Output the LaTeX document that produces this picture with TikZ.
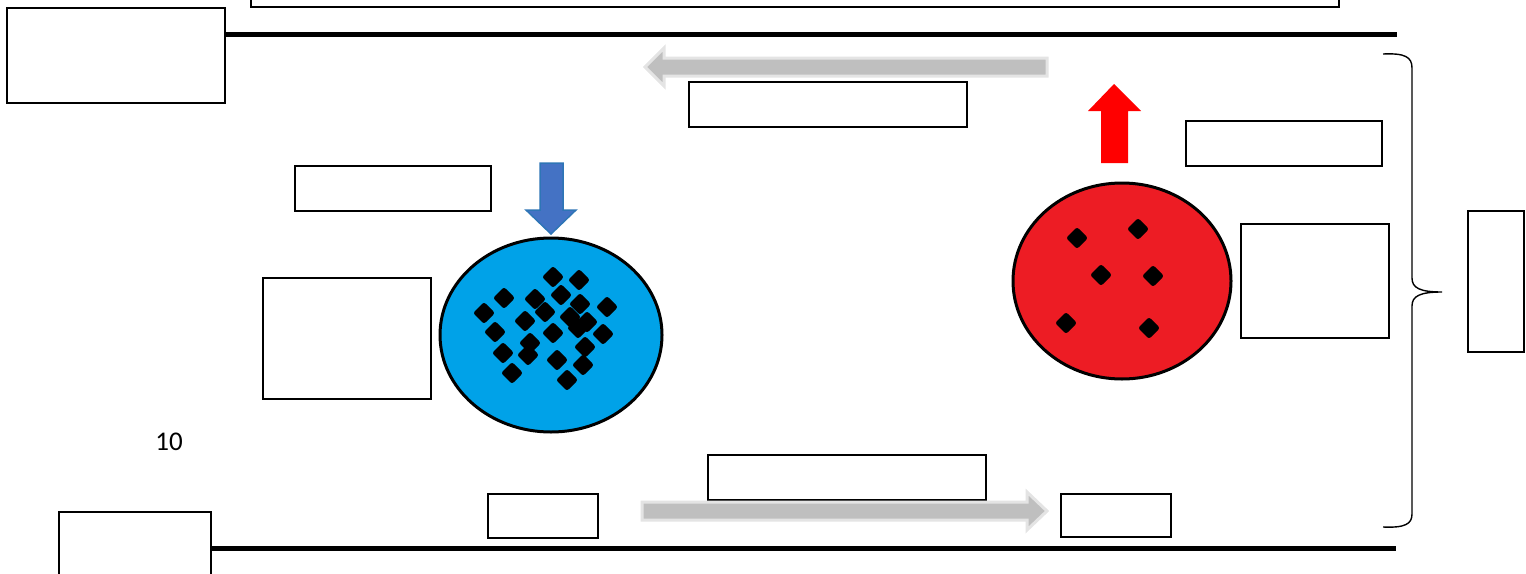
\documentclass[tikz,border=0pt]{standalone}
\usepackage{fontspec}
\setmainfont{Carlito}
\begin{document}
\begin{tikzpicture}[x=1pt,y=-1pt,
  box/.style={draw=black,line width=1.2pt,fill=white,inner sep=0pt},
  thickline/.style={line width=5pt,black},
  grayarrow/.style={fill=arrowgray,draw=arrowrim,line width=3pt,line join=miter},
  dot/.style={fill=black,rounded corners=2.5pt}]
\definecolor{arrowgray}{HTML}{BFBFBF}
\definecolor{arrowrim}{HTML}{E4E4E4}
\definecolor{cellblue}{HTML}{00A2E8}
\definecolor{cellred}{HTML}{ED1C24}
\definecolor{downblue}{HTML}{4472C4}
\definecolor{downrim}{HTML}{2E75B6}
\useasboundingbox (0,0) rectangle (1526,573);
\begin{scope}
\clip (0,0) rectangle (1526,573);

% walls
\draw[thickline] (225,34) -- (1397,34);
\draw[thickline] (211,548) -- (1396,548);

% label boxes
\node[box,minimum width=1088pt,minimum height=17pt] (topbar) at (795,-1.5) {};
\node[box,minimum width=218pt,minimum height=95pt] (topleft) at (116,55.5) {};
\node[box,minimum width=152pt,minimum height=78pt] (botleft) at (135,551) {};
\node[box,minimum width=278pt,minimum height=45pt] (flowtop) at (828,104.5) {};
\node[box,minimum width=196pt,minimum height=45pt] (inlabel) at (393,188.5) {};
\node[box,minimum width=168pt,minimum height=121pt] (blueside) at (347,338.5) {};
\node[box,minimum width=196pt,minimum height=45pt] (outlabel) at (1284,143.5) {};
\node[box,minimum width=148pt,minimum height=114pt] (redside) at (1315,281) {};
\node[box,minimum width=56pt,minimum height=141pt] (bracelabel) at (1496,281.5) {};
\node[box,minimum width=110pt,minimum height=44pt] (lowleft) at (543,516) {};
\node[box,minimum width=278pt,minimum height=45pt] (flowbot) at (847,477.5) {};
\node[box,minimum width=110pt,minimum height=43pt] (lowright) at (1116,515.5) {};

% flow arrows
\draw[grayarrow] (1047,58) -- (664,58) -- (664,48) -- (645,67) -- (664,86) -- (664,76) -- (1047,76) -- cycle;
\draw[grayarrow] (642,502) -- (1027,502) -- (1027,492) -- (1047,511) -- (1027,530) -- (1027,520) -- (642,520) -- cycle;

% uptake and release arrows
\draw[fill=downblue,draw=downrim,line width=1.5pt] (540,163) -- (563,163) -- (563,210) -- (576,210) -- (551,234) -- (526,210) -- (540,210) -- cycle;
\fill[red] (1101,163) -- (1101,111) -- (1088,111) -- (1114,84) -- (1141,111) -- (1128,111) -- (1128,163) -- cycle;

% cells
\draw[fill=cellblue,line width=3pt] (551,335) ellipse [x radius=111, y radius=97];
\draw[fill=cellred,line width=3pt] (1122,281) ellipse [x radius=109, y radius=98];

% particles
\foreach \px/\py in {553/277,579/280,504/298,535/299,561/295,580/304,607/307,484/313,545/312,570/317,525/321,587/322,578/328,495/332,553/333,603/334,530/343,585/347,503/353,528/355,557/360,583/365,512/373,567/380}
  \fill[dot] (\px,\py-11) -- (\px+11,\py) -- (\px,\py+11) -- (\px-11,\py) -- cycle;
\foreach \px/\py in {1077/238,1138/229,1101/275,1153/276,1066/323,1149/328}
  \fill[dot] (\px,\py-11) -- (\px+11,\py) -- (\px,\py+11) -- (\px-11,\py) -- cycle;

% brace
\draw[line width=1.4pt] (1383,54) .. controls (1405,53) and (1412,57) .. (1412,68) -- (1412,278)
  .. controls (1412,288) and (1420,292) .. (1442,292)
  .. controls (1420,292) and (1412,296) .. (1412,306) -- (1412,514)
  .. controls (1412,524) and (1405,528) .. (1383,527);

\node[font=\fontsize{27}{30}\selectfont,inner sep=0pt] (num) at (169,442) {10};
\end{scope}
\end{tikzpicture}
\end{document}
